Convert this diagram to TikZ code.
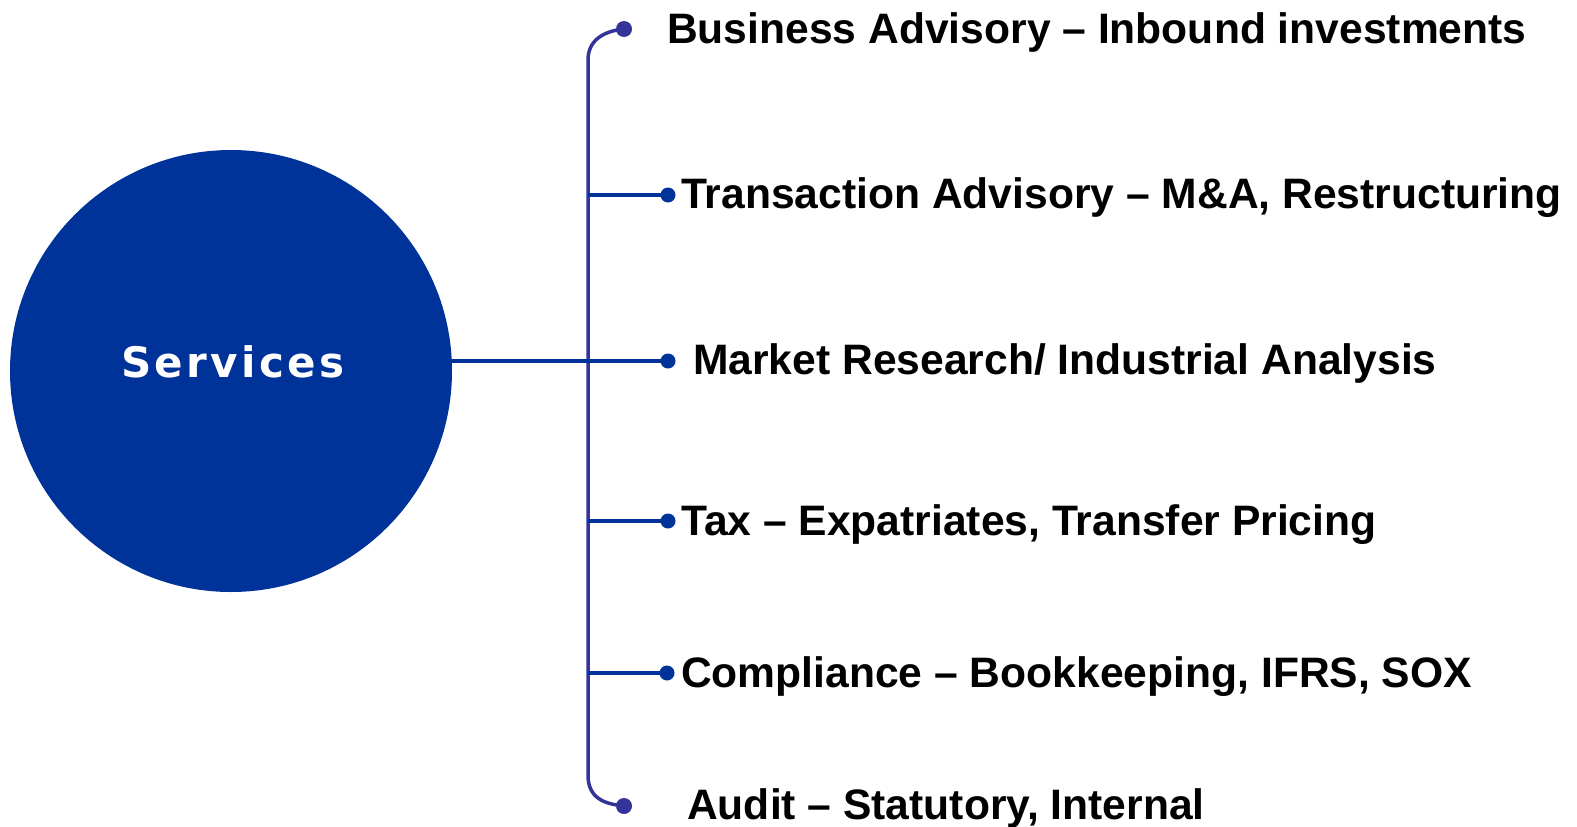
\documentclass[tikz,border=0pt]{standalone}
\usepackage{fontspec}
\setmainfont{Liberation Sans}
\newfontfamily\svcfont[LetterSpace=8]{DejaVu Sans}
\usetikzlibrary{backgrounds}
\definecolor{svcblue}{RGB}{0,51,153}
\definecolor{brk}{RGB}{51,51,153}
\begin{document}
\begin{tikzpicture}[x=1pt,y=-1pt,
  hline/.style={draw=svcblue,line width=3.2pt},
  bracketline/.style={draw=brk,line width=3.5pt},
  dotn/.style={circle,fill=svcblue,minimum size=15pt,inner sep=0pt},
  enddot/.style={circle,fill=brk,minimum size=16pt,inner sep=0pt},
  item/.style={anchor=base west,inner sep=0pt,font=\fontsize{42.6}{48}\selectfont\bfseries,text=black}]
\useasboundingbox (0,0) rectangle (1577,827);
\node[circle,fill=svcblue,minimum size=442pt,inner sep=0pt] (svc) at (231,371) {};
\node[text=white,font=\fontsize{42}{48}\selectfont\svcfont\bfseries] (svct) at (233,362) {Services};
\node[enddot] (d1) at (624,29) {};
\node[dotn] (d2) at (668,195) {};
\node[dotn] (d3) at (668,361) {};
\node[dotn] (d4) at (668,521) {};
\node[dotn] (d5) at (667,673) {};
\node[enddot] (d6) at (624,806) {};
\coordinate (vt) at (588,60);
\coordinate (vb) at (588,775);
\begin{scope}[on background layer]
\draw[bracketline] (d1.center) .. controls (604,31) and (588,40) .. (vt) -- (vb) .. controls (588,798) and (604,804) .. (d6.center);
\draw[hline] (vt |- d2) -- (d2.center);
\draw[hline] (svc.center |- d3) -- (d3.center);
\draw[hline] (vt |- d4) -- (d4.center);
\draw[hline] (vt |- d5) -- (d5.center);
\end{scope}
\node[item] (t1) at (667,43) {Business Advisory – Inbound investments};
\node[item] (t2) at (681,208) {Transaction Advisory – M\&A, Restructuring};
\node[item] (t3) at (693,374) {Market Research/ Industrial Analysis};
\node[item] (t4) at (681,535) {Tax – Expatriates, Transfer Pricing};
\node[item] (t5) at (681,687) {Compliance – Bookkeeping, IFRS, SOX};
\node[item] (t6) at (687,819) {Audit – Statutory, Internal};
\end{tikzpicture}
\end{document}
